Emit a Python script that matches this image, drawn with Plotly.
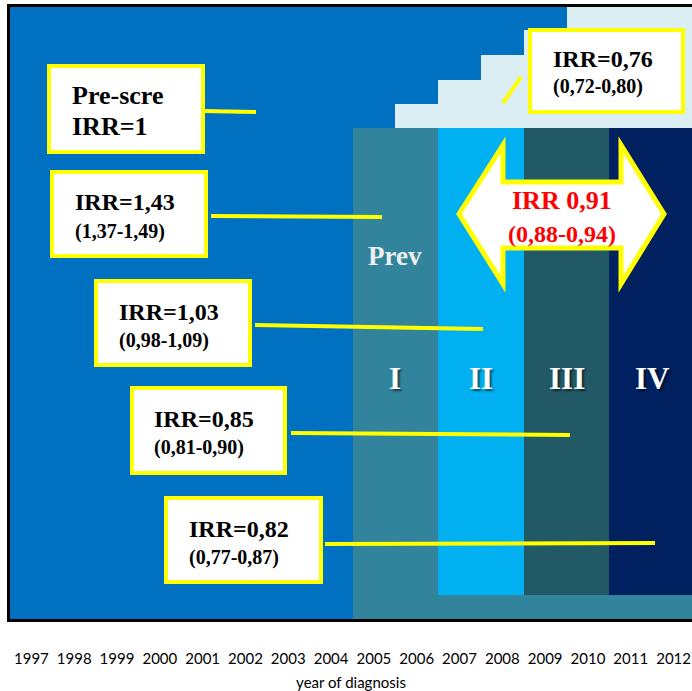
import plotly.graph_objects as go

# ---------------- data ----------------
years = list(range(1997, 2013))
year_labels = [str(y) for y in years]

# screening-period years and their stacked segment heights (share of the panel, 0-100)
screen_years = [2005, 2006, 2007, 2008, 2009, 2010, 2011, 2012]
strip_height = [3.9, 3.9, 3.9, 3.9, 3.9, 3.9, 3.9, 3.9]
stage_height = [76.3, 76.3, 76.3, 76.3, 76.3, 76.3, 76.3, 76.3]
stage_group = ["I", "I", "II", "II", "III", "III", "IV", "IV"]
light_height = [0.0, 3.9, 7.8, 11.9, 16.0, 19.8, 19.8, 19.8]

stage_names = ["I", "II", "III", "IV"]
stage_label_years = [2005.5, 2007.5, 2009.5, 2011.5]

box_line1 = ["Pre-scre", "IRR=1,43", "IRR=1,03", "IRR=0,85", "IRR=0,82", "IRR=0,76"]
box_line2 = ["IRR=1", "(1,37-1,49)", "(0,98-1,09)", "(0,81-0,90)", "(0,77-0,87)", "(0,72-0,80)"]
arrow_line1 = "IRR 0,91"
arrow_line2 = "(0,88-0,94)"

# ---------------- styles ----------------
BLUE = "#0070C0"
TEAL = "#31849B"
LIGHT = "#DAEEF3"
YELLOW = "#FFFF00"
stage_colors = {"I": "#31849B", "II": "#00B0F0", "III": "#215967", "IV": "#002060"}
SERIF = "Liberation Serif, Times New Roman, serif"

W, H = 692, 691
ML, MR, MT, MB = 10, 0, 7, 72
PW = W - ML - MR
PH = H - MT - MB


def px(x):
    return (x - ML) / PW


def py(y):
    return (H - MB - y) / PH


fig = go.Figure()
fig.add_trace(go.Bar(x=screen_years, y=strip_height, marker=dict(color=TEAL, line=dict(width=0)),
                     hoverinfo="skip"))
fig.add_trace(go.Bar(x=screen_years, y=stage_height,
                     marker=dict(color=[stage_colors[g] for g in stage_group], line=dict(width=0)),
                     hoverinfo="skip"))
fig.add_trace(go.Bar(x=screen_years, y=light_height, marker=dict(color=LIGHT, line=dict(width=0)),
                     hoverinfo="skip"))

shapes = []
annotations = []

# callout boxes (pixel geometry)
box_rects = [(49, 66, 203, 152), (52, 172, 206, 256), (96, 281, 250, 365),
             (132, 388, 285, 473), (166, 498, 321, 582), (530, 30, 683, 112)]
text_pos = [(70, 95, 127), (73, 202, 231), (117, 312, 340), (152, 419, 447),
            (187, 529, 557), (551, 59, 87)]
leaders = [(203, 111, 256, 112), (211, 216, 382, 217), (255, 325, 483, 329),
           (291, 433, 570, 435), (325, 544, 655, 543), (503, 103, 521, 77)]
size1 = [26, 24, 24, 24, 24, 24]
size2 = [26, 20, 20, 20, 20, 20]

for (x0, y0, x1, y1), (lx0, ly0, lx1, ly1) in zip(box_rects, leaders):
    shapes.append(dict(type="line", xref="paper", yref="paper", x0=px(lx0), y0=py(ly0),
                       x1=px(lx1), y1=py(ly1), line=dict(color=YELLOW, width=4)))
    shapes.append(dict(type="rect", xref="paper", yref="paper", x0=px(x0), y0=py(y0),
                       x1=px(x1), y1=py(y1), fillcolor="white", line=dict(color=YELLOW, width=4)))

for t1, t2, (tx, ty1, ty2), s1, s2 in zip(box_line1, box_line2, text_pos, size1, size2):
    annotations.append(dict(text="<b>%s</b>" % t1, xref="paper", yref="paper", x=px(tx), y=py(ty1),
                            xanchor="left", yanchor="middle", showarrow=False,
                            font=dict(family=SERIF, size=s1, color="black")))
    annotations.append(dict(text="<b>%s</b>" % t2, xref="paper", yref="paper", x=px(tx), y=py(ty2),
                            xanchor="left", yanchor="middle", showarrow=False,
                            font=dict(family=SERIF, size=s2, color="black")))

# double arrow
arrow_pts = [(459, 214), (503, 145), (503, 182), (621, 182), (621, 145), (664, 214),
             (621, 284), (621, 248), (503, 248), (503, 284)]
path = "M " + " L ".join("%.5f,%.5f" % (px(a), py(b)) for a, b in arrow_pts) + " Z"
shapes.append(dict(type="path", xref="paper", yref="paper", path=path, fillcolor="white",
                   line=dict(color=YELLOW, width=5)))
annotations.append(dict(text="<b>%s</b>" % arrow_line1, xref="paper", yref="paper", x=px(562), y=py(200),
                        xanchor="center", yanchor="middle", showarrow=False,
                        font=dict(family=SERIF, size=26, color="#FF0000")))
annotations.append(dict(text="<b>%s</b>" % arrow_line2, xref="paper", yref="paper", x=px(562), y=py(234),
                        xanchor="center", yanchor="middle", showarrow=False,
                        font=dict(family=SERIF, size=24, color="#FF0000")))

# stage labels
annotations.append(dict(text="<b>Prev</b>", x=2005.5, y=py(256) * 100, xref="x", yref="y",
                        showarrow=False, font=dict(family=SERIF, size=27, color="#EEEEEE")))
for name, xv in zip(stage_names, stage_label_years):
    annotations.append(dict(text="<b>%s</b>" % name, x=xv, y=py(378) * 100, xref="x", yref="y",
                            showarrow=False,
                            font=dict(family=SERIF, size=31, color="white",
                                      shadow="2px 2px 2px rgba(0,0,0,0.55)")))

fig.update_layout(
    width=W, height=H, margin=dict(l=ML, r=MR, t=MT, b=MB),
    paper_bgcolor="white", plot_bgcolor=BLUE,
    barmode="stack", bargap=0, showlegend=False,
    shapes=shapes, annotations=annotations,
    xaxis=dict(range=[1996.5, 2012.43], tickvals=years, ticktext=year_labels,
               ticks="outside", ticklen=24, tickcolor="rgba(0,0,0,0)",
               tickfont=dict(family="Lato, Calibri, sans-serif", size=15, color="black"),
               showline=True, linecolor="black", linewidth=2.5, mirror=True,
               showgrid=False, zeroline=False, automargin=False,
               title=dict(text="year of diagnosis", standoff=13,
                          font=dict(family="Lato, Calibri, sans-serif", size=15, color="black"))),
    yaxis=dict(range=[0, 100], showticklabels=False, ticks="", showgrid=False, zeroline=False,
               showline=True, linecolor="black", linewidth=2.5, mirror=False, automargin=False),
)

fig.write_html("out.html", config={"displayModeBar": False},
               post_script="document.body.style.margin='0px';document.body.style.overflow='hidden';")
